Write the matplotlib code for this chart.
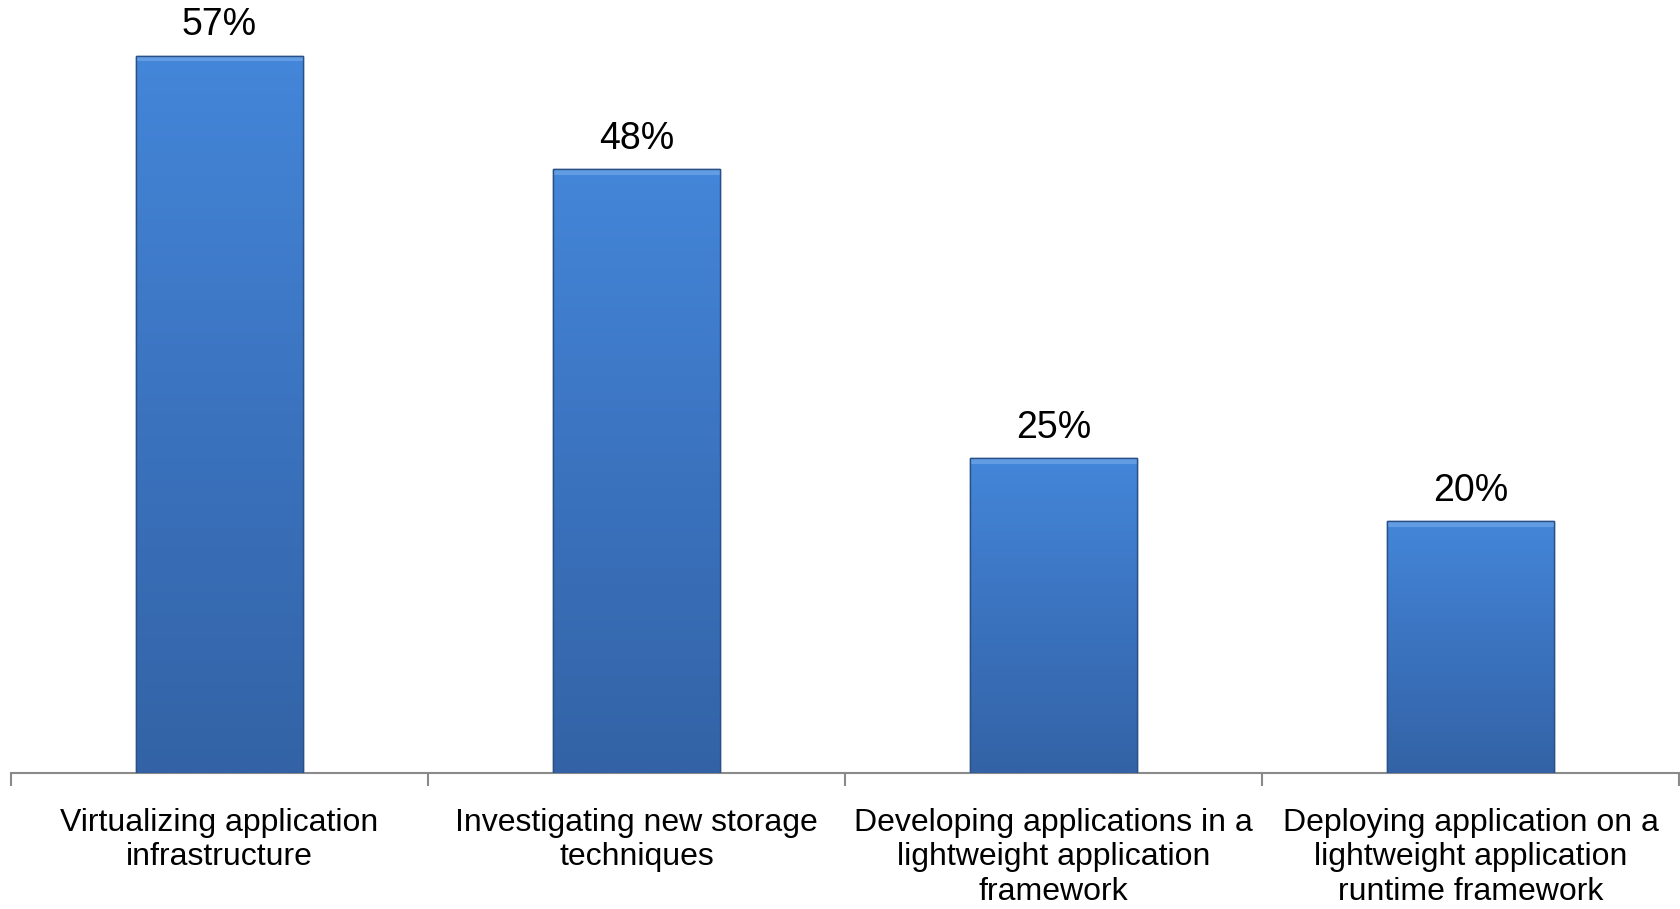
# survey bar chart - application infrastructure initiatives

import numpy as np
import matplotlib
matplotlib.use("Agg")
import matplotlib.pyplot as plt
from matplotlib.colors import LinearSegmentedColormap

# Data
categories = [
    "Virtualizing application\ninfrastructure",
    "Investigating new storage\ntechniques",
    "Developing applications in a\nlightweight application\nframework",
    "Deploying application on a\nlightweight application\nruntime framework",
]
percentages = [57, 48, 25, 20]

plt.rcParams['font.family'] = ['Liberation Sans', 'DejaVu Sans']

fig = plt.figure(figsize=(16.81, 9.09), dpi=100)
ax = fig.add_axes([0.0065, 0.1496, 0.9925, 0.8306])

x = np.arange(len(categories))
bars = ax.bar(x, percentages, width=0.40, color='#3d78c4',
              edgecolor='#2a5088', linewidth=1.0, zorder=2)

# vertical gradient inside each bar
grad_cmap = LinearSegmentedColormap.from_list("bar", ["#3363a6", "#3b73bf", "#4486d9"])
gradient = np.linspace(0, 1, 256).reshape(-1, 1)
for bar in bars:
    x0, y0 = bar.get_x(), bar.get_y()
    w, h = bar.get_width(), bar.get_height()
    im = ax.imshow(gradient, cmap=grad_cmap, origin='lower', aspect='auto',
                   extent=[x0, x0 + w, y0, y0 + h], zorder=3)
    im.set_clip_path(bar)
    # light bevel strip along the top
    ax.fill_between([x0, x0 + w], y0 + h - 0.45, y0 + h, color='#6aa3e6',
                    alpha=0.8, linewidth=0, zorder=4)
    ax.bar(bar.get_x() + w / 2, h, width=w, fill=False,
           edgecolor='#2a5088', linewidth=1.0, zorder=5)

for xi, v in zip(x, percentages):
    ax.annotate(f"{v}%", (xi, v), xytext=(0, 9), textcoords='offset points',
                ha='center', va='bottom', fontsize=27, color='black')

ax.set_xlim(-0.5, len(categories) - 0.5)
ax.set_ylim(0, 60)

for side in ['top', 'right', 'left']:
    ax.spines[side].set_visible(False)
ax.spines['bottom'].set_color('#8a8a8a')
ax.spines['bottom'].set_linewidth(1.5)
ax.set_yticks([])

ax.set_xticks(x)
ax.set_xticklabels(categories, fontsize=23, linespacing=1.2)
ax.tick_params(axis='x', which='major', length=0, pad=25)
ax.set_xticks(np.arange(-0.5, len(categories)), minor=True)
ax.tick_params(axis='x', which='minor', length=9, width=1.5, color='#8a8a8a')

fig.savefig("out.png", dpi=100)
